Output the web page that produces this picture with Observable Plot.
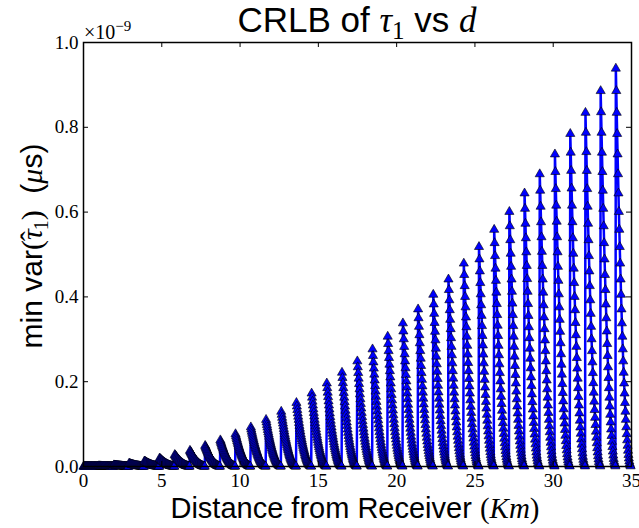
<!DOCTYPE html>
<html>
<head>
<meta charset="utf-8">
<script src="https://cdn.jsdelivr.net/npm/d3@7"></script>
<script src="https://cdn.jsdelivr.net/npm/@observablehq/plot@0.6"></script>
<style>
  html, body { margin: 0; padding: 0; background: white; }
</style>
</head>
<body>
<div id="chart"></div>
<script>
// Spike positions (distance, Km) and peak CRLB values (units of 1e-9)
const spikeX = [0, 0.97, 1.94, 2.91, 3.89, 4.86, 5.83, 6.8, 7.77, 8.74, 9.71, 10.69, 11.66, 12.63, 13.6, 14.57, 15.54, 16.51, 17.49, 18.46, 19.43, 20.4, 21.37, 22.34, 23.31, 24.29, 25.26, 26.23, 27.2, 28.17, 29.14, 30.11, 31.09, 32.06, 33.03, 34.0];
const peaks = [0, 0.0008, 0.0031, 0.0069, 0.0123, 0.0192, 0.0276, 0.0375, 0.049, 0.0621, 0.0766, 0.0927, 0.1103, 0.1295, 0.1502, 0.1724, 0.1962, 0.2215, 0.2483, 0.2766, 0.3065, 0.3379, 0.3709, 0.4054, 0.4414, 0.4789, 0.518, 0.5586, 0.6008, 0.6444, 0.6896, 0.7364, 0.7847, 0.8345, 0.8858, 0.9387];
// Within-spike profile: x offset from the spike's top and fraction of the peak
const profileDx = [0, 0.028, 0.056, 0.083, 0.111, 0.139, 0.167, 0.194, 0.222, 0.25, 0.278, 0.306, 0.333, 0.361, 0.389, 0.417, 0.444, 0.472, 0.5, 0.528, 0.556, 0.583, 0.611, 0.639, 0.667, 0.694, 0.722, 0.75, 0.778, 0.806, 0.833, 0.861, 0.889, 0.917, 0.944];
const profileFrac = [1, 0.9437, 0.889, 0.8359, 0.7845, 0.7347, 0.6865, 0.64, 0.5951, 0.5518, 0.5102, 0.4702, 0.4318, 0.3951, 0.36, 0.3265, 0.2947, 0.2645, 0.2359, 0.209, 0.1837, 0.16, 0.138, 0.1176, 0.0988, 0.0816, 0.0661, 0.0522, 0.04, 0.0294, 0.0204, 0.0131, 0.0073, 0.0033, 0.0008];
const xTicks = [0, 5, 10, 15, 20, 25, 30, 35];
const yTicks = [0, 0.2, 0.4, 0.6, 0.8, 1.0];

const data = [];
spikeX.forEach((sx, i) => {
  profileDx.forEach((dx, j) => {
    data.push({x: sx + dx, y: peaks[i] * profileFrac[j]});
  });
});

const W = 639, H = 528;
const mL = 83, mR = 8, mT = 42, mB = 62;
const fw = W - mL - mR, fh = H - mT - mB;
const tick = 5;

const svg = Plot.plot({
  width: W, height: H,
  marginLeft: mL, marginRight: mR, marginTop: mT, marginBottom: mB,
  x: {domain: [0, 35]},
  y: {domain: [0, 1]},
  style: {fontFamily: "'Liberation Serif', serif", fontSize: "19px", background: "white", color: "black"},
  marks: [
    Plot.line(data, {x: "x", y: "y", stroke: "#0000ff", strokeWidth: 2.5}),
    Plot.dot(data, {x: "x", y: "y", symbol: "triangle", r: 3.4, fill: "#0000ff", stroke: "black", strokeWidth: 0.6}),
    Plot.tickX(xTicks, {x: d => d, insetTop: fh - tick, stroke: "black"}),
    Plot.tickX(xTicks, {x: d => d, insetBottom: fh - tick, stroke: "black"}),
    Plot.tickY(yTicks, {y: d => d, insetRight: fw - tick, stroke: "black"}),
    Plot.tickY(yTicks, {y: d => d, insetLeft: fw - tick, stroke: "black"}),
    Plot.axisX({ticks: xTicks, tickSize: 0, tickPadding: 7, label: null, fontSize: 19}),
    Plot.axisY({ticks: yTicks, tickSize: 0, tickPadding: 5, tickFormat: d3.format(".1f"), label: null, fontSize: 19}),
    Plot.frame({stroke: "black", strokeWidth: 1.5})
  ]
});

document.getElementById("chart").appendChild(svg);
const s = d3.select(svg);
const cx = mL + fw / 2;
const serif = "'Liberation Serif', serif";
const sans = "'Liberation Sans', Arial, sans-serif";

// Title
const t = s.append("text").attr("x", cx).attr("y", 32).attr("text-anchor", "middle")
  .attr("font-family", sans).attr("font-size", 35).attr("fill", "black");
t.append("tspan").text("CRLB of ");
t.append("tspan").attr("font-family", serif).attr("font-style", "italic").text("τ");
t.append("tspan").attr("dy", 7).attr("font-family", serif).attr("font-size", 25).text("1");
t.append("tspan").attr("dy", -7).text(" vs ");
t.append("tspan").attr("font-family", serif).attr("font-style", "italic").text("d");

// Exponent label
const e = s.append("text").attr("x", mL + 1).attr("y", 39).attr("text-anchor", "start")
  .attr("font-family", serif).attr("font-size", 20).attr("fill", "black");
e.append("tspan").text("×10");
e.append("tspan").attr("dy", -8).attr("font-size", 15).text("−9");

// X label
const xl = s.append("text").attr("x", 355).attr("y", 518).attr("text-anchor", "middle")
  .attr("font-family", sans).attr("font-size", 29).attr("fill", "black");
xl.append("tspan").text("Distance from Receiver ");
xl.append("tspan").attr("font-family", serif).text("(");
xl.append("tspan").attr("font-family", serif).attr("font-style", "italic").text("Km");
xl.append("tspan").attr("font-family", serif).text(")");

// Y label
const yl = s.append("text").attr("transform", `translate(42,246) rotate(-90)`).attr("text-anchor", "middle")
  .attr("font-family", sans).attr("font-size", 30).attr("fill", "black");
yl.append("tspan").text("min var");
yl.append("tspan").attr("font-family", serif).text("(");
yl.append("tspan").attr("font-family", serif).attr("font-style", "italic").text("τ");
yl.append("tspan").attr("dx", -12).attr("dy", -1).attr("font-family", serif).text("ˆ");
yl.append("tspan").attr("dx", 1).attr("dy", 7).attr("font-family", serif).attr("font-size", 20).text("1");
yl.append("tspan").attr("dy", -6).attr("font-family", serif).text(")");
yl.append("tspan").text("  (");
yl.append("tspan").attr("font-family", serif).attr("font-style", "italic").text("μ");
yl.append("tspan").text("s)");
</script>
</body>
</html>
